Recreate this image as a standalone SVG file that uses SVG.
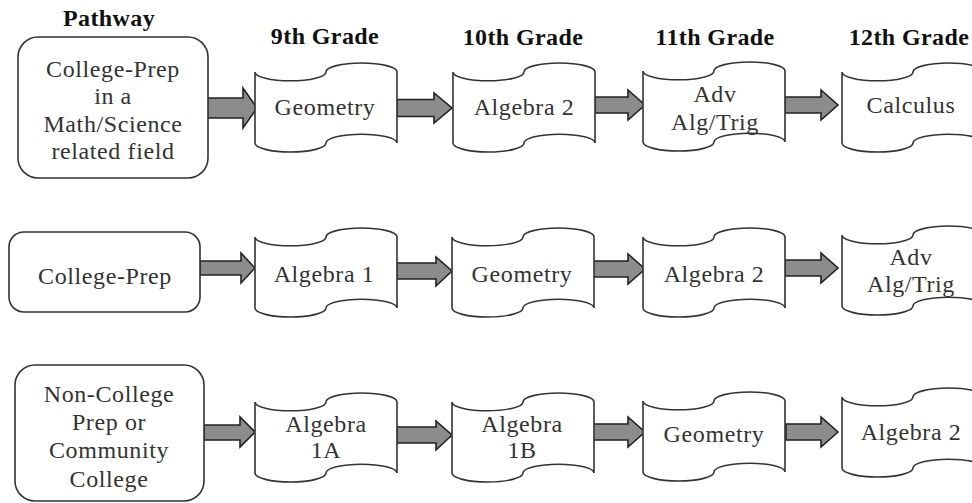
<svg xmlns="http://www.w3.org/2000/svg" xmlns:xlink="http://www.w3.org/1999/xlink" width="972" height="503" viewBox="0 0 972 503">
<style>
.hd{font-family:"Liberation Serif","Times New Roman",serif;font-size:24px;font-weight:bold;fill:#111;text-anchor:middle;letter-spacing:0.4px}
.tx{font-family:"Liberation Serif","Times New Roman",serif;font-size:24px;fill:#333;text-anchor:middle;letter-spacing:0.6px}
.box{fill:#fff;stroke:#333;stroke-width:1.6}
.arr{fill:#8c8c8c;stroke:#222;stroke-width:1.6;stroke-linejoin:miter}
</style>
<defs>
<path id="doc" class="box" d="M0,8.9 A35.5,8.9 0 0 0 71,8.9 A35.5,8.9 0 0 1 142,8.9 L142,80.1 A35.5,8.9 0 0 0 71,80.1 A35.5,8.9 0 0 1 0,80.1 Z"/>
</defs>
<rect width="972" height="503" fill="#fff"/>
<g id="headers">
<text class="hd" x="109" y="26">Pathway</text>
<text class="hd" x="325" y="44">9th Grade</text>
<text class="hd" x="523" y="45">10th Grade</text>
<text class="hd" x="715" y="45">11th Grade</text>
<text class="hd" x="909" y="45">12th Grade</text>
</g>
<g id="connectors">
<path class="arr" d="M203,98 L243,98 L243,88 L257,108 L243,128 L243,118 L203,118 Z"/>
<path class="arr" d="M397,99.5 L434,99.5 L434,93 L452,108 L434,123 L434,116.5 L397,116.5 Z"/>
<path class="arr" d="M595,97 L628,97 L628,90 L645,105 L628,120 L628,113 L595,113 Z"/>
<path class="arr" d="M785,97 L821,97 L821,90 L838,105 L821,120 L821,113 L785,113 Z"/>
<path class="arr" d="M200,261 L241,261 L241,253 L255,268 L241,283 L241,275 L200,275 Z"/>
<path class="arr" d="M397,263 L436,263 L436,257 L452,271 L436,286 L436,279 L397,279 Z"/>
<path class="arr" d="M593,261 L628,261 L628,254 L645,269 L628,284 L628,277 L593,277 Z"/>
<path class="arr" d="M785,260 L821,260 L821,253 L838,268 L821,283 L821,276 L785,276 Z"/>
<path class="arr" d="M204,425 L240,425 L240,417 L255,432 L240,447 L240,440 L204,440 Z"/>
<path class="arr" d="M397,427 L436,427 L436,421 L452,435 L436,450 L436,443 L397,443 Z"/>
<path class="arr" d="M593,424 L628,424 L628,417 L645,432 L628,447 L628,440 L593,440 Z"/>
<path class="arr" d="M786,424 L821,424 L821,417 L838,432 L821,447 L821,440 L786,440 Z"/>
</g>
<g id="p1"><rect class="box" x="18" y="37" width="190" height="141" rx="20"/>
<text class="tx" x="113" y="77">College-Prep</text><text class="tx" x="113" y="104">in a</text><text class="tx" x="113" y="132">Math/Science</text><text class="tx" x="113" y="159">related field</text></g>
<g id="p2"><rect class="box" x="9" y="232" width="191" height="80" rx="15"/>
<text class="tx" x="105" y="284">College-Prep</text></g>
<g id="p3"><rect class="box" x="15" y="365" width="189" height="136" rx="20"/>
<text class="tx" x="109" y="402">Non-College</text><text class="tx" x="109" y="430">Prep or</text><text class="tx" x="109" y="458">Community</text><text class="tx" x="109" y="487">College</text></g>
<g id="r1c1"><use xlink:href="#doc" x="255" y="63"/><text class="tx" x="325" y="115">Geometry</text></g>
<g id="r1c2"><use xlink:href="#doc" x="453" y="63"/><text class="tx" x="524" y="115">Algebra 2</text></g>
<g id="r1c3"><use xlink:href="#doc" x="643" y="62"/><text class="tx" x="715" y="102">Adv</text><text class="tx" x="715" y="130">Alg/Trig</text></g>
<g id="r1c4"><use xlink:href="#doc" x="842" y="63"/><text class="tx" x="911" y="113">Calculus</text></g>
<g id="r2c1"><use xlink:href="#doc" x="255" y="228"/><text class="tx" x="324" y="282">Algebra 1</text></g>
<g id="r2c2"><use xlink:href="#doc" x="452" y="228"/><text class="tx" x="522" y="282">Geometry</text></g>
<g id="r2c3"><use xlink:href="#doc" x="643" y="228"/><text class="tx" x="714" y="282">Algebra 2</text></g>
<g id="r2c4"><use xlink:href="#doc" x="842" y="226"/><text class="tx" x="911" y="265">Adv</text><text class="tx" x="911" y="292">Alg/Trig</text></g>
<g id="r3c1"><use xlink:href="#doc" x="255" y="393"/><text class="tx" x="326" y="432">Algebra</text><text class="tx" x="326" y="458">1A</text></g>
<g id="r3c2"><use xlink:href="#doc" x="452" y="393"/><text class="tx" x="522" y="432">Algebra</text><text class="tx" x="522" y="458">1B</text></g>
<g id="r3c3"><use xlink:href="#doc" x="643" y="392"/><text class="tx" x="714" y="442">Geometry</text></g>
<g id="r3c4"><use xlink:href="#doc" x="842" y="388"/><text class="tx" x="911" y="440">Algebra 2</text></g>
</svg>
